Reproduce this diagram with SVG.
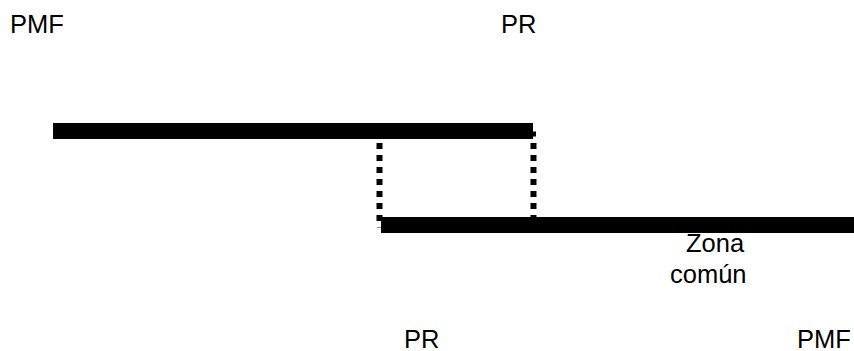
<svg xmlns="http://www.w3.org/2000/svg" width="854" height="351" viewBox="0 0 854 351">
  <style>
    .lbl { font-family: "Liberation Sans", Arial, sans-serif; font-size: 25.5px; fill: #000; }
    .bar { fill: #000; }
    .dot { stroke: #000; stroke-width: 6; stroke-dasharray: 6 6; fill: none; }
  </style>
  <rect width="854" height="351" fill="#fff"/>
  <g id="bar-top">
    <rect class="bar" x="53" y="123" width="480" height="16"/>
    <rect class="bar" x="531" y="131.5" width="5" height="5"/>
  </g>
  <g id="bar-bottom">
    <rect class="bar" x="381" y="217" width="473" height="16"/>
  </g>
  <g id="connectors">
    <line class="dot" x1="379.5" y1="143" x2="379.5" y2="222"/>
    <line class="dot" x1="533.5" y1="143" x2="533.5" y2="222"/>
    <line x1="377" y1="227.5" x2="381" y2="227.5" stroke="#888" stroke-width="1"/>
  </g>
  <g id="labels">
    <text class="lbl" x="10" y="33">PMF</text>
    <text class="lbl" x="501" y="33">PR</text>
    <text class="lbl" x="686" y="251.5">Zona</text>
    <text class="lbl" x="670" y="282.5">común</text>
    <text class="lbl" x="404" y="348">PR</text>
    <text class="lbl" x="797" y="348">PMF</text>
  </g>
</svg>
